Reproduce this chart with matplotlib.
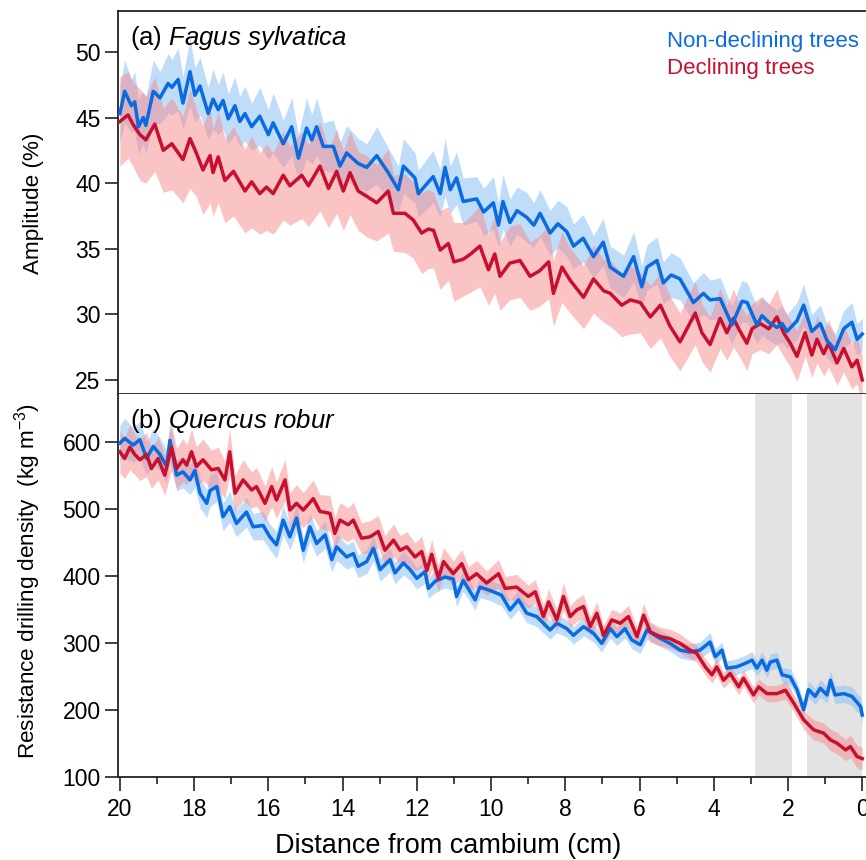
import numpy as np
import matplotlib.pyplot as plt
from matplotlib.ticker import MultipleLocator

plt.rcParams['font.family'] = ['Liberation Sans', 'DejaVu Sans']
plt.rcParams['mathtext.fontset'] = 'custom'
plt.rcParams['mathtext.rm'] = 'Liberation Sans'
plt.rcParams['mathtext.it'] = 'Liberation Sans:italic'

# ---- (a) Fagus sylvatica : amplitude (%) ----
fag_nd_x = [20.0, 19.87, 19.69, 19.6, 19.5, 19.37, 19.3, 19.1, 18.92, 18.7,
            18.6, 18.43, 18.3, 18.11, 17.98, 17.84, 17.62, 17.49, 17.35, 17.22,
            17.08, 16.9, 16.77, 16.63, 16.45, 16.23, 16.0, 15.87, 15.6, 15.37,
            15.19, 14.97, 14.83, 14.7, 14.52, 14.25, 14.07, 13.89, 13.58, 13.35,
            13.08, 12.77, 12.5, 12.36, 12.05, 11.96, 11.56, 11.37, 11.24, 11.1,
            10.93, 10.75, 10.39, 10.2, 9.94, 9.8, 9.68, 9.49, 9.3, 9.04, 8.85, 8.68,
            8.41, 8.2, 7.96, 7.78, 7.52, 7.24, 6.98, 6.79, 6.43, 6.16, 5.94,
            5.8, 5.53, 5.36, 5.15, 4.91, 4.55, 4.28, 4.1, 3.83, 3.51,
            3.24, 3.1, 2.84, 2.7, 2.52, 2.3, 2.16, 2.03, 1.76, 1.58,
            1.36, 1.13, 0.95, 0.73, 0.5, 0.28, 0.14, 0.0]
fag_nd_y = [45.3, 47.0, 45.9, 46.2, 44.3, 45.0, 44.4, 47.0, 46.5, 47.6,
            47.3, 47.9, 46.1, 48.5, 46.7, 47.4, 45.3, 46.4, 45.6, 46.3,
            44.9, 45.9, 44.7, 45.3, 44.3, 45.1, 43.7, 44.6, 43.0, 44.3,
            41.9, 44.2, 43.3, 44.3, 42.8, 42.8, 41.3, 42.3, 41.5, 41.2,
            42.1, 40.8, 39.5, 41.3, 40.4, 39.2, 40.5, 39.2, 41.2, 39.5,
            40.4, 38.6, 38.8, 37.8, 38.5, 36.8, 38.6, 37.0, 37.9, 37.4, 36.8, 37.7,
            36.2, 36.9, 36.3, 35.2, 35.8, 34.4, 35.5, 33.6, 32.9, 34.4, 32.1,
            33.6, 34.1, 32.4, 33.0, 32.7, 30.9, 31.6, 31.1, 31.2, 29.2,
            31.0, 30.9, 29.2, 29.9, 29.4, 29.0, 29.3, 28.7, 29.5, 30.7,
            28.7, 29.3, 28.0, 27.3, 28.9, 29.4, 28.1, 28.5]
fag_nd_sd = [2.2, 2.4, 2.0, 2.3, 2.1, 2.0, 2.2, 2.4, 2.0, 2.3,
             2.1, 2.4, 2.0, 2.6, 2.1, 2.2, 2.0, 2.3, 1.9, 2.2,
             1.9, 2.2, 1.9, 2.1, 1.8, 2.2, 1.9, 2.3, 1.8, 2.2,
             1.8, 2.3, 1.9, 2.2, 1.8, 2.0, 1.8, 2.1, 1.9, 1.8,
             2.2, 1.9, 1.8, 2.1, 1.9, 1.8, 2.0, 1.8, 2.2, 1.8,
             2.0, 1.8, 1.7, 1.8, 2.0, 1.7, 2.1, 1.8, 1.8, 1.9, 1.7, 1.8,
             1.7, 1.8, 1.9, 1.7, 1.8, 1.6, 1.8, 1.6, 1.6, 1.9, 1.6,
             1.7, 1.8, 1.6, 1.7, 1.6, 1.5, 1.6, 1.5, 1.6, 1.4,
             1.6, 1.5, 1.4, 1.5, 1.4, 1.3, 1.4, 1.3, 1.4, 1.6,
             1.3, 1.4, 1.3, 1.2, 1.4, 1.5, 1.2, 1.2]

fag_d_x = [20.0, 19.78, 19.65, 19.46, 19.3, 19.06, 18.83, 18.6, 18.3, 18.11,
           17.94, 17.76, 17.57, 17.49, 17.35, 17.17, 16.94, 16.63, 16.45, 16.23,
           16.05, 15.87, 15.6, 15.42, 15.1, 14.92, 14.61, 14.38, 14.16, 13.98,
           13.8, 13.58, 13.35, 13.08, 12.77, 12.63, 12.32, 12.1, 11.87, 11.69,
           11.55, 11.37, 11.15, 11.0, 10.75, 10.55, 10.3, 10.07, 9.9, 9.76, 9.5,
           9.22, 8.95, 8.7, 8.45, 8.32, 8.09, 7.87, 7.51, 7.24, 6.97, 6.79,
           6.48, 6.25, 5.98, 5.71, 5.44, 5.18, 4.91, 4.5, 4.32, 4.1,
           3.83, 3.65, 3.47, 3.33, 3.11, 2.97, 2.75, 2.52, 2.3, 2.12,
           1.94, 1.76, 1.54, 1.36, 1.22, 1.04, 0.91, 0.68, 0.5, 0.28,
           0.14, 0.0]
fag_d_y = [44.7, 45.2, 44.5, 43.7, 43.3, 44.5, 42.5, 43.0, 41.8, 43.4,
           42.3, 41.0, 42.1, 40.8, 42.0, 40.2, 40.9, 39.4, 40.1, 39.2,
           39.7, 39.2, 40.6, 39.8, 40.6, 39.8, 41.3, 39.6, 40.9, 39.4,
           40.8, 39.4, 39.0, 38.5, 39.4, 37.7, 37.7, 37.2, 36.2, 36.5,
           36.4, 34.9, 35.4, 34.0, 34.2, 34.6, 35.2, 33.4, 34.6, 32.9, 33.9,
           34.1, 32.9, 33.3, 34.0, 31.6, 33.6, 32.6, 31.3, 32.7, 31.8, 31.6,
           30.7, 31.1, 30.9, 29.8, 30.7, 29.1, 27.9, 30.1, 28.6, 27.7,
           29.7, 28.6, 29.7, 28.9, 27.8, 28.9, 29.3, 28.9, 29.8, 28.6,
           27.8, 26.8, 28.6, 26.9, 28.1, 27.0, 27.8, 26.3, 27.4, 26.0,
           26.5, 25.0]
fag_d_sd = [3.4, 3.3, 3.2, 3.5, 3.3, 3.6, 3.2, 3.5, 3.3, 3.8,
            3.3, 3.4, 3.6, 3.3, 3.5, 3.2, 3.4, 3.2, 3.5, 3.1,
            3.3, 3.1, 3.4, 3.0, 3.3, 3.1, 3.4, 3.0, 3.2, 3.0,
            3.2, 3.0, 3.1, 2.9, 3.2, 2.9, 3.0, 2.9, 3.1, 3.0,
            2.9, 3.0, 2.8, 3.0, 2.8, 2.9, 3.1, 2.7, 3.0, 2.6, 2.8,
            2.8, 2.6, 2.7, 2.8, 2.5, 2.7, 2.5, 2.4, 2.6, 2.4, 2.5,
            2.4, 2.6, 2.3, 2.4, 2.5, 2.3, 2.2, 2.4, 2.2, 2.1,
            2.3, 2.1, 2.2, 2.0, 2.1, 1.9, 2.0, 1.9, 2.1, 1.8,
            1.8, 1.9, 1.8, 1.7, 1.8, 1.7, 1.8, 1.7, 1.8, 1.7,
            1.8, 1.9]

# ---- (b) Quercus robur : resistance drilling density (kg m-3) ----
que_nd_x = [20.0, 19.87, 19.64, 19.46, 19.28, 19.1, 18.92, 18.74, 18.65, 18.47,
            18.3, 18.11, 17.98, 17.84, 17.66, 17.57, 17.39, 17.22, 17.04, 16.86,
            16.59, 16.41, 16.14, 15.96, 15.78, 15.6, 15.42, 15.24, 15.06, 14.88,
            14.7, 14.47, 14.29, 14.16, 13.89, 13.71, 13.58, 13.35, 13.17, 12.99,
            12.72, 12.59, 12.36, 12.18, 12.0, 11.78, 11.69, 11.5, 11.24, 11.02,
            10.93, 10.75, 10.43, 10.3, 10.03, 9.72, 9.49, 9.26, 9.04, 8.77,
            8.41, 8.23, 7.96, 7.78, 7.51, 7.24, 7.02, 6.79, 6.61, 6.39,
            6.21, 5.98, 5.8, 5.53, 5.18, 4.91, 4.64, 4.37, 4.1, 3.96,
            3.78, 3.65, 3.38, 3.16, 2.97, 2.84, 2.7, 2.57, 2.48, 2.3,
            2.16, 1.94, 1.76, 1.58, 1.45, 1.27, 1.13, 0.95, 0.86, 0.73,
            0.5, 0.28, 0.05, 0.0]
que_nd_y = [598, 605, 595, 603, 575, 593, 581, 563, 602, 550,
            555, 543, 557, 523, 508, 527, 533, 488, 503, 478,
            495, 473, 475, 458, 446, 483, 458, 486, 438, 473,
            448, 461, 424, 443, 428, 433, 414, 421, 441, 409,
            424, 404, 419, 409, 396, 406, 381, 392, 398, 395,
            369, 393, 364, 383, 378, 371, 349, 364, 344, 339,
            319, 329, 321, 311, 324, 314, 299, 321, 309, 321,
            304, 297, 319, 309, 299, 289, 286, 289, 301, 279,
            289, 262, 264, 269, 274, 262, 274, 259, 271, 274,
            252, 249, 230, 200, 230, 220, 232, 222, 244, 222,
            224, 220, 205, 192]
que_nd_sd = [26, 30, 25, 28, 24, 27, 25, 24, 30, 23,
             24, 22, 25, 22, 21, 24, 22, 21, 23, 20,
             22, 20, 21, 19, 20, 22, 19, 21, 19, 21,
             19, 20, 18, 20, 18, 19, 17, 18, 19, 17,
             18, 16, 18, 16, 16, 17, 15, 17, 16, 17,
             15, 16, 15, 16, 15, 16, 14, 15, 14, 15,
             14, 14, 13, 13, 14, 13, 13, 14, 13, 14,
             13, 13, 14, 12, 12, 12, 12, 12, 14, 12,
             12, 11, 12, 12, 13, 11, 13, 11, 12, 12,
             11, 12, 12, 12, 12, 12, 13, 12, 14, 13,
             13, 14, 14, 15]

que_d_x = [20.0, 19.87, 19.73, 19.6, 19.46, 19.28, 19.15, 18.97, 18.79, 18.61,
           18.47, 18.3, 18.2, 18.07, 17.94, 17.76, 17.53, 17.35, 17.17, 17.04,
           16.9, 16.68, 16.45, 16.32, 16.09, 15.91, 15.78, 15.55, 15.42, 15.24,
           15.06, 14.79, 14.61, 14.34, 14.21, 14.07, 13.85, 13.71, 13.49, 13.26,
           13.04, 12.86, 12.63, 12.45, 12.27, 12.05, 11.87, 11.73, 11.6, 11.42,
           11.28, 11.02, 10.79, 10.61, 10.39, 10.12, 9.8, 9.62, 9.31, 9.0,
           8.81, 8.59, 8.45, 8.23, 8.05, 7.87, 7.69, 7.51, 7.33, 7.15,
           6.97, 6.75, 6.52, 6.3, 6.07, 5.89, 5.71, 5.44, 5.18, 4.91,
           4.64, 4.46, 4.23, 4.05, 3.92, 3.74, 3.56, 3.33, 3.2, 2.93,
           2.79, 2.57, 2.3, 2.07, 1.85, 1.58, 1.31, 1.04, 0.86, 0.68,
           0.45, 0.32, 0.14, 0.0]
que_d_y = [585, 575, 592, 581, 573, 581, 560, 575, 550, 592,
           560, 573, 565, 585, 563, 573, 558, 560, 543, 585,
           523, 543, 528, 533, 508, 533, 513, 543, 498, 508,
           498, 515, 496, 493, 463, 483, 476, 483, 456, 458,
           466, 438, 453, 438, 443, 428, 436, 408, 432, 396,
           421, 403, 418, 394, 403, 389, 403, 381, 383, 369,
           376, 339, 361, 334, 369, 339, 349, 354, 324, 344,
           311, 334, 329, 339, 309, 341, 316, 309, 306, 299,
           289, 284, 264, 252, 264, 244, 254, 234, 247, 222,
           234, 224, 224, 229, 210, 185, 170, 165, 155, 150,
           140, 145, 130, 127]
que_d_sd = [32, 30, 34, 30, 31, 33, 30, 32, 30, 35,
            30, 32, 30, 34, 30, 31, 29, 32, 28, 34,
            27, 30, 27, 29, 26, 30, 27, 31, 26, 28,
            26, 28, 25, 27, 24, 26, 25, 27, 23, 24,
            24, 22, 24, 22, 23, 21, 23, 20, 22, 20,
            21, 19, 21, 19, 20, 18, 21, 18, 19, 17,
            18, 17, 19, 16, 20, 16, 17, 18, 15, 17,
            15, 16, 15, 17, 14, 18, 15, 14, 14, 14,
            13, 13, 12, 12, 13, 12, 12, 12, 12, 12,
            12, 12, 12, 13, 13, 14, 15, 15, 16, 16,
            16, 17, 17, 17]

# shaded periods in panel (b)
shade_periods = [(2.9, 1.9), (1.5, 0.0)]

blue = '#0a6be0'
red = '#c8102e'
blue_band = '#8cc0f5'
red_band = '#f78a8a'

fig = plt.figure(figsize=(8.66, 8.6), dpi=100)
ax1 = fig.add_axes([118 / 866, 1 - 394 / 860, 748 / 866, 383 / 860])
ax2 = fig.add_axes([118 / 866, 1 - 776.7 / 860, 748 / 866, 382.7 / 860])


def add_band(ax, x, y, sd, band_col, band_alpha):
    x = np.array(x)
    y = np.array(y, dtype=float)
    sd = np.array(sd, dtype=float)
    ax.fill_between(x, y - sd, y + sd, color=band_col, alpha=band_alpha,
                    lw=0, zorder=1)
    return x, y


# Panel (a)
xa1, ya1 = add_band(ax1, fag_nd_x, fag_nd_y, fag_nd_sd, blue_band, 0.55)
xa2, ya2 = add_band(ax1, fag_d_x, fag_d_y, fag_d_sd, red_band, 0.5)
ax1.plot(xa2, ya2, color=red, lw=2.5, zorder=3, solid_joinstyle='round')
ax1.plot(xa1, ya1, color=blue, lw=2.5, zorder=4, solid_joinstyle='round')

# Panel (b)
for a, b in shade_periods:
    ax2.axvspan(a, b, color='#e3e3e3', lw=0, zorder=0)
xb1, yb1 = add_band(ax2, que_nd_x, que_nd_y, que_nd_sd, blue_band, 0.55)
xb2, yb2 = add_band(ax2, que_d_x, que_d_y, que_d_sd, red_band, 0.5)
ax2.plot(xb1, yb1, color=blue, lw=2.5, zorder=3, solid_joinstyle='round')
ax2.plot(xb2, yb2, color=red, lw=2.5, zorder=4, solid_joinstyle='round')

spine_col = '#222222'
for ax in (ax1, ax2):
    ax.set_xlim(20.05, -0.1)
    ax.spines['right'].set_visible(False)
    for s in ('left', 'top', 'bottom'):
        ax.spines[s].set_color(spine_col)
        ax.spines[s].set_linewidth(1.3)
    ax.xaxis.set_major_locator(MultipleLocator(2))
    ax.xaxis.set_minor_locator(MultipleLocator(1))
    ax.tick_params(axis='y', direction='out', length=9.5, width=1.2,
                   color=spine_col, labelsize=16.5, pad=3)

ax1.set_ylim(23.93, 53.12)
ax1.set_yticks([25, 30, 35, 40, 45, 50])
ax1.tick_params(axis='x', which='major', direction='out', length=9,
                width=1.2, color=spine_col, labelbottom=False)
ax1.tick_params(axis='x', which='minor', direction='out', length=3.6,
                width=1.2, color=spine_col)

ax2.set_ylim(100, 671.2)
ax2.set_yticks([100, 200, 300, 400, 500, 600])
ax2.spines['top'].set_visible(False)
ax2.tick_params(axis='x', which='major', direction='out', length=10,
                width=1.2, color=spine_col, labelsize=16.5, pad=5)
ax2.tick_params(axis='x', which='minor', direction='out', length=4.8,
                width=1.2, color=spine_col)

# labels
ax1.text(0.016, 0.911, r'(a) $\it{Fagus\ sylvatica}$', transform=ax1.transAxes,
         fontsize=18.5, va='baseline', ha='left')
ax2.text(0.016, 0.910, r'(b) $\it{Quercus\ robur}$', transform=ax2.transAxes,
         fontsize=18.5, va='baseline', ha='left')
ax1.text(0.734, 0.907, 'Non-declining trees', color=blue, fontsize=16,
         transform=ax1.transAxes, va='baseline', ha='left')
ax1.text(0.734, 0.8355, 'Declining trees', color=red, fontsize=16,
         transform=ax1.transAxes, va='baseline', ha='left')

fig.text(33 / 866, 1 - 203 / 860, 'Amplitude (%)', rotation=90,
         ha='center', va='center', fontsize=16.2)
fig.text(28 / 866, 1 - 581 / 860, r'Resistance drilling density  (kg m$^{-3}$)',
         rotation=90, ha='center', va='center', fontsize=16.2)
fig.text(448 / 866, 1 - 853 / 860, 'Distance from cambium (cm)',
         ha='center', va='baseline', fontsize=19.5)

plt.savefig('out.png', dpi=100)
